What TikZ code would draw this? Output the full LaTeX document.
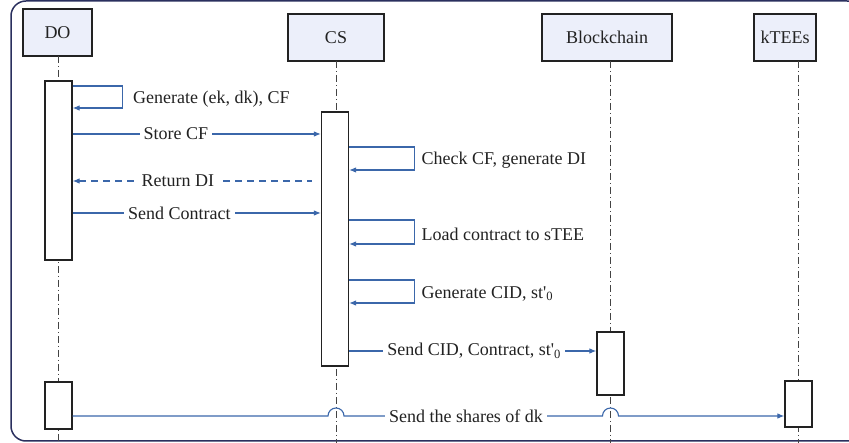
\documentclass[tikz,border=0pt]{standalone}
\usepackage{fontspec}
\setmainfont{Liberation Serif}
\usetikzlibrary{arrows.meta}
\definecolor{msgblue}{RGB}{59,103,170}
\definecolor{hdrfill}{RGB}{236,239,250}
\definecolor{framecol}{RGB}{42,47,94}
\definecolor{inkgray}{RGB}{34,34,34}
\tikzset{
  hdr/.style={draw=inkgray, line width=1.2pt, fill=hdrfill, inner sep=0pt,
    font=\fontsize{18}{20}\selectfont, text=inkgray},
  actbox/.style={draw=inkgray, line width=1.2pt, fill=white, inner sep=0pt,
    minimum width=27pt},
  lifeline/.style={draw=inkgray!85, line width=1pt,
    dash pattern=on 7pt off 3pt on 1pt off 3pt},
  msg/.style={draw=msgblue, line width=1.1pt,
    -{Latex[length=7pt,width=5.5pt]}},
  rmsg/.style={draw=msgblue, line width=1.1pt,
    {Latex[length=7pt,width=5.5pt]}-, dash pattern=on 7pt off 5pt},
  lbl/.style={fill=white, inner sep=4pt, font=\fontsize{18}{20}\selectfont,
    text=inkgray},
  sidelbl/.style={anchor=west, inner sep=0pt, font=\fontsize{18}{20}\selectfont,
    text=inkgray, xshift=7pt, yshift=-2pt}
}
\begin{document}
\begin{tikzpicture}[x=1pt, y=-1pt]
\useasboundingbox (0,0) rectangle (849,443);

% outer frame
\draw[framecol, line width=1.5pt, rounded corners=15pt] (11,1) rectangle (862,441);

% participants
\node[hdr, minimum width=69pt, minimum height=47pt] (do) at (57.5,32.5) {DO};
\node[hdr, minimum width=96pt, minimum height=47pt] (cs) at (336,37.5) {CS};
\node[hdr, minimum width=130pt, minimum height=47pt] (bc) at (607,37.5) {Blockchain};
\node[hdr, minimum width=62pt, minimum height=47pt] (kt) at (785,37.5) {kTEEs};

% lifelines
\draw[lifeline] (58.5,56) -- (58.5,443);
\draw[lifeline] (336,61) -- (336,443);
\draw[lifeline] (610.5,61) -- (610.5,443);
\draw[lifeline] (798.5,61) -- (798.5,443);

% activation bars
\node[actbox, minimum height=179pt] (doA) at (58.5,170.5) {};
\node[actbox, minimum height=47pt] (doB) at (58.5,405.5) {};
\node[actbox, minimum height=254pt] (csA) at (335,239) {};
\node[actbox, minimum height=63pt] (bcA) at (610.5,363.5) {};
\node[actbox, minimum height=46pt] (ktA) at (798.5,404) {};

% DO: generate keys and CF
\draw[msg] (doA.east |- 0,86) -- ++(50,0) -- node[sidelbl, xshift=3pt]{Generate (ek, dk), CF} ++(0,22)
  -- (doA.east |- 0,108);

% DO -> CS: store CF
\draw[msg] (doA.east |- 0,134) -- node[lbl, pos=0.416]{Store CF} (csA.west |- 0,134);

% CS: check CF
\draw[msg] (csA.east |- 0,147) -- ++(65,0) -- node[sidelbl]{Check CF, generate DI} ++(0,23)
  -- (csA.east |- 0,170);

% CS -> DO: return DI
\draw[rmsg] (doA.east |- 0,181) -- node[lbl, pos=0.44]{Return DI} (312,181);

% DO -> CS: send contract
\draw[msg] (doA.east |- 0,213) -- node[lbl, pos=0.43]{Send Contract} (csA.west |- 0,213);

% CS: load contract
\draw[msg] (csA.east |- 0,220) -- ++(65,0) -- node[sidelbl]{Load contract to sTEE} ++(0,24)
  -- (csA.east |- 0,244);

% CS: generate CID
\draw[msg] (csA.east |- 0,280) -- ++(65,0) -- node[sidelbl]{Generate CID, st\textquotesingle\textsubscript{0}} ++(0,23)
  -- (csA.east |- 0,303);

% CS -> Blockchain
\draw[msg] (csA.east |- 0,351) -- node[lbl, pos=0.506]{Send CID, Contract, st\textquotesingle\textsubscript{0}} (bcA.west |- 0,351);

% DO -> kTEEs: shares of dk, hopping over the lifelines
\draw[msg] (doB.east |- 0,416) -- (328,416)
  arc[start angle=180, end angle=0, radius=8pt] -- (602.5,416)
  arc[start angle=180, end angle=0, radius=8pt] -- (ktA.west |- 0,416);
\node[lbl] (shares) at (466,416) {Send the shares of dk};
\end{tikzpicture}
\end{document}
